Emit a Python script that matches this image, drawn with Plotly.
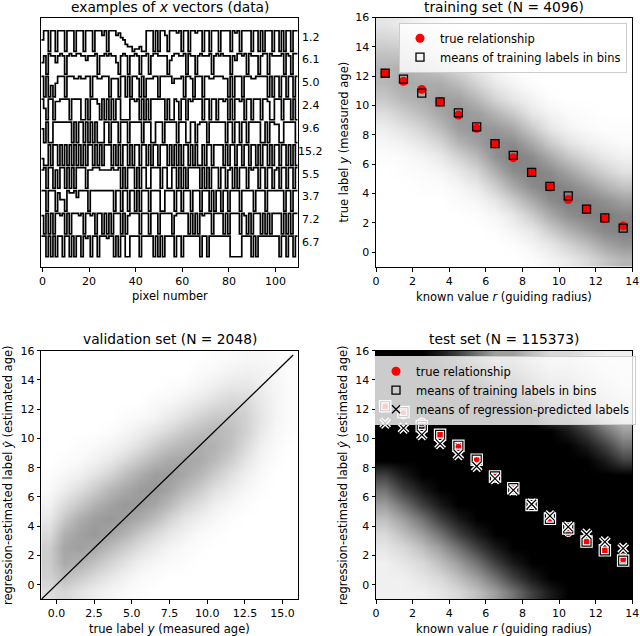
import plotly.graph_objects as go

# ---------------- data ----------------
vec_labels = ["1.2", "6.1", "5.0", "2.4", "9.6", "15.2", "5.5", "3.7", "7.2", "6.7"]
# each row: 110 pixel values, digit level 0..9
vec_rows = [
    "5990990999" "0999099909" "9909997909" "9978653220" "1120099909" "0997099989" "0990998990" "9909990999" "9098909999" "0990909990" "9909099099",
    "5809885898" "0898899886" "8889088989" "8850898088" "9808890899" "8888068998" "8909880898" "8890898988" "8086998909" "8880899098" "8889098099",
    "9090506999" "0999889889" "9099889990" "8880990909" "9809088899" "0999996888" "9099809990" "9988999988" "0909990999" "8899999090" "9909909909",
    "9509908899" "9909999009" "0999709090" "9099000099" "8909090999" "9990900980" "9909899990" "9909909989" "0909989099" "0999099800" "9990999090",
    "6090099999" "9990909909" "0909000990" "9990999099" "9990999009" "9909999909" "9900990899" "9099999990" "9909909909" "9999009099" "8800999990",
    "3009099090" "9090909090" "9909090999" "0909099090" "9909909099" "0999090909" "0990909009" "0990999909" "0990990990" "9909099090" "9909909090",
    "8909908099" "0909099990" "8899988888" "9889090999" "0909900999" "9099009909" "0909999909" "0909990990" "8909099909" "8990990990" "8909909909",
    "9909990855" "0988969999" "0999999999" "9099099099" "0909990999" "9009999099" "0999099909" "9909099099" "0999909999" "9099990999" "9999099099",
    "8090909989" "0909998909" "9890990909" "0999090899" "9909990999" "0999990899" "9990909098" "9990999909" "0999909809" "0999090909" "9990909099",
    "9909090990" "9909099098" "9099099989" "9090990099" "9909999909" "0909999099" "0999999909" "9099999999" "9000009999" "0909999999" "9909909909",
]

bin_centers = [0.5, 1.5, 2.5, 3.5, 4.5, 5.5, 6.5, 7.5, 8.5, 9.5, 10.5, 11.5, 12.5, 13.5]
true_rel = [12.2, 11.65, 11.1, 10.25, 9.35, 8.45, 7.4, 6.45, 5.45, 4.45, 3.6, 2.95, 2.3, 1.8]
train_means = [12.2, 11.8, 10.85, 10.25, 9.5, 8.55, 7.4, 6.6, 5.45, 4.5, 3.85, 2.95, 2.35, 1.65]
pred_means = [11.05, 10.7, 10.26, 9.65, 8.9, 8.1, 7.25, 6.47, 5.5, 4.7, 3.95, 3.45, 2.93, 2.48]

# point-cloud densities (relative darkness per 1x1 cell)
grid_y = [-0.5, 0.5, 1.5, 2.5, 3.5, 4.5, 5.5, 6.5, 7.5, 8.5, 9.5, 10.5, 11.5, 12.5, 13.5, 14.5, 15.5]
train_density = [
    [0, 0, 0, 0, 0, 0, 0, 0, 0.01, 0.05, 0.1, 0.17, 0.27, 0.35],
    [0, 0, 0, 0, 0, 0, 0, 0.01, 0.05, 0.11, 0.21, 0.31, 0.43, 0.5],
    [0, 0, 0, 0, 0, 0, 0.01, 0.05, 0.11, 0.24, 0.36, 0.47, 0.56, 0.59],
    [0, 0, 0, 0, 0, 0.01, 0.04, 0.11, 0.24, 0.4, 0.52, 0.58, 0.6, 0.57],
    [0, 0, 0, 0, 0.02, 0.04, 0.11, 0.24, 0.4, 0.54, 0.6, 0.58, 0.52, 0.44],
    [0, 0, 0.01, 0.01, 0.04, 0.1, 0.23, 0.4, 0.54, 0.6, 0.56, 0.47, 0.36, 0.28],
    [0, 0.01, 0.02, 0.04, 0.1, 0.2, 0.38, 0.54, 0.6, 0.54, 0.43, 0.31, 0.21, 0.14],
    [0.01, 0.02, 0.05, 0.1, 0.21, 0.33, 0.51, 0.6, 0.54, 0.4, 0.27, 0.17, 0.1, 0.06],
    [0.04, 0.06, 0.12, 0.2, 0.35, 0.45, 0.55, 0.54, 0.4, 0.24, 0.13, 0.07, 0.04, 0.02],
    [0.08, 0.14, 0.21, 0.32, 0.46, 0.5, 0.48, 0.4, 0.24, 0.11, 0.05, 0.02, 0.01, 0.01],
    [0.16, 0.24, 0.32, 0.42, 0.5, 0.45, 0.35, 0.24, 0.11, 0.05, 0.02, 0.01, 0, 0],
    [0.26, 0.34, 0.39, 0.45, 0.44, 0.33, 0.2, 0.11, 0.05, 0.01, 0, 0, 0, 0],
    [0.33, 0.4, 0.39, 0.39, 0.32, 0.2, 0.1, 0.05, 0.01, 0, 0, 0, 0, 0],
    [0.35, 0.38, 0.32, 0.27, 0.19, 0.1, 0.04, 0.01, 0, 0, 0, 0, 0, 0],
    [0.29, 0.28, 0.21, 0.16, 0.09, 0.04, 0.01, 0, 0, 0, 0, 0, 0, 0],
    [0.2, 0.18, 0.12, 0.07, 0.04, 0.01, 0, 0, 0, 0, 0, 0, 0, 0],
    [0.12, 0.09, 0.05, 0.03, 0.01, 0, 0, 0, 0, 0, 0, 0, 0, 0],
]
test_density = [
    [.06, .06, .06, .1, .15, .25, .38, .55, .75, .9, 1, 1, 1, 1],
    [.06, .06, .1, .15, .25, .38, .55, .75, .9, 1, 1, 1, 1, 1],
    [.06, .1, .15, .25, .38, .55, .75, .9, 1, 1, 1, 1, 1, 1],
    [.1, .15, .25, .38, .55, .75, .9, 1, 1, 1, 1, 1, 1, 1],
    [.15, .25, .38, .55, .75, .9, 1, 1, 1, 1, 1, 1, 1, 1],
    [.25, .38, .55, .75, .9, 1, 1, 1, 1, 1, 1, 1, 1, 1],
    [.38, .55, .75, .9, 1, 1, 1, 1, 1, 1, 1, 1, 1, 1],
    [.55, .75, .9, 1, 1, 1, 1, 1, 1, 1, 1, 1, 1, 1],
    [.75, .9, 1, 1, 1, 1, 1, 1, 1, 1, 1, 1, 1, 1],
    [1, 1, 1, 1, 1, 1, 1, 1, 1, 1, 1, 1, .9, .75],
    [1, 1, 1, 1, 1, 1, 1, 1, 1, 1, 1, .9, .75, .55],
    [1, 1, 1, 1, 1, 1, 1, 1, 1, 1, .9, .75, .55, .38],
    [1, 1, 1, 1, 1, 1, 1, 1, 1, .75, .75, .55, .38, .25],
    [1, 1, 1, 1, 1, 1, 1, .9, .75, .55, .55, .38, .25, .15],
    [1, 1, 1, 1, 1, 1, .75, .75, .55, .38, .38, .25, .15, .1],
    [1, 1, 1, 1, .9, .75, .55, .55, .38, .25, .25, .15, .1, .06],
    [1, 1, 1, .9, .75, .55, .38, .38, .25, .15, .15, .1, .06, .06],
]
val_x = [-0.5, 0.5, 1.5, 2.5, 3.5, 4.5, 5.5, 6.5, 7.5, 8.5, 9.5, 10.5, 11.5, 12.5, 13.5, 14.5, 15.5]
val_density = [
    [0.13, 0.16, 0.11, 0.07, 0.04, 0.02, 0.01, 0, 0, 0, 0, 0, 0, 0, 0, 0, 0],
    [0.18, 0.25, 0.2, 0.14, 0.09, 0.05, 0.02, 0.01, 0, 0, 0, 0, 0, 0, 0, 0, 0],
    [0.2, 0.33, 0.3, 0.24, 0.17, 0.11, 0.06, 0.03, 0.02, 0.01, 0, 0, 0, 0, 0, 0, 0],
    [0.19, 0.35, 0.37, 0.34, 0.27, 0.2, 0.13, 0.08, 0.04, 0.02, 0.01, 0, 0, 0, 0, 0, 0],
    [0.14, 0.31, 0.37, 0.4, 0.36, 0.3, 0.22, 0.15, 0.09, 0.05, 0.02, 0.01, 0, 0, 0, 0, 0],
    [0.09, 0.22, 0.32, 0.38, 0.4, 0.38, 0.33, 0.26, 0.17, 0.1, 0.06, 0.03, 0.01, 0, 0, 0, 0],
    [0.05, 0.14, 0.22, 0.3, 0.36, 0.4, 0.39, 0.35, 0.27, 0.18, 0.12, 0.06, 0.03, 0.01, 0, 0, 0],
    [0.02, 0.07, 0.13, 0.2, 0.28, 0.34, 0.39, 0.4, 0.35, 0.27, 0.2, 0.12, 0.07, 0.03, 0.01, 0, 0],
    [0.01, 0.03, 0.06, 0.11, 0.17, 0.25, 0.32, 0.38, 0.38, 0.34, 0.28, 0.2, 0.12, 0.06, 0.02, 0, 0],
    [0, 0.01, 0.02, 0.05, 0.09, 0.15, 0.22, 0.29, 0.34, 0.35, 0.33, 0.27, 0.19, 0.1, 0.04, 0.01, 0],
    [0, 0, 0.01, 0.02, 0.04, 0.07, 0.12, 0.19, 0.25, 0.29, 0.32, 0.3, 0.24, 0.15, 0.06, 0.02, 0],
    [0, 0, 0, 0, 0.01, 0.03, 0.06, 0.1, 0.15, 0.21, 0.25, 0.28, 0.25, 0.18, 0.09, 0.03, 0.01],
    [0, 0, 0, 0, 0, 0.01, 0.02, 0.04, 0.08, 0.12, 0.17, 0.21, 0.22, 0.18, 0.1, 0.04, 0.01],
    [0, 0, 0, 0, 0, 0, 0, 0.02, 0.03, 0.06, 0.09, 0.13, 0.16, 0.15, 0.09, 0.04, 0.01],
    [0, 0, 0, 0, 0, 0, 0, 0, 0.01, 0.02, 0.04, 0.07, 0.1, 0.1, 0.07, 0.04, 0.01],
    [0, 0, 0, 0, 0, 0, 0, 0, 0, 0, 0.02, 0.03, 0.05, 0.06, 0.05, 0.03, 0.01],
    [0, 0, 0, 0, 0, 0, 0, 0, 0, 0, 0, 0.01, 0.02, 0.03, 0.03, 0.02, 0.01],
]
diag_line = [-1.0, 15.7]

# ---------------- figure ----------------
W, H = 640, 636
FONT = "DejaVu Sans"
fig = go.Figure()

# top-left: step vectors
n_rows = len(vec_rows)
for i, row in enumerate(vec_rows):
    offset = n_rows - 1 - i
    vals = [offset + int(c) / 10 for c in row]
    xs = [k - 0.5 for k in range(len(vals) + 1)]
    ys = vals + [vals[-1]]
    fig.add_trace(go.Scatter(x=xs, y=ys, mode="lines", line=dict(color="black", width=1.7, shape="hv"),
                             showlegend=False, hoverinfo="skip", xaxis="x", yaxis="y"))

gray_scale = [[0, "rgb(255,255,255)"], [1, "rgb(0,0,0)"]]

# top-right: training set
fig.add_trace(go.Heatmap(x=bin_centers, y=grid_y, z=train_density, zmin=0, zmax=1.2, zsmooth="best",
                         colorscale=gray_scale, showscale=False, hoverinfo="skip", xaxis="x2", yaxis="y2"))
fig.add_trace(go.Scatter(x=bin_centers, y=true_rel, mode="markers", showlegend=False,
                         marker=dict(symbol="circle", size=9, color="red"), xaxis="x2", yaxis="y2"))
fig.add_trace(go.Scatter(x=bin_centers, y=train_means, mode="markers", showlegend=False,
                         marker=dict(symbol="square-open", size=8, color="black", line=dict(width=1.3, color="black")),
                         xaxis="x2", yaxis="y2"))
fig.add_trace(go.Scatter(x=[None], y=[None], mode="markers", name="true relationship", legend="legend",
                         marker=dict(symbol="circle", size=9, color="red"), xaxis="x2", yaxis="y2"))
fig.add_trace(go.Scatter(x=[None], y=[None], mode="markers", name="means of training labels in bins", legend="legend",
                         marker=dict(symbol="square-open", size=8, color="black", line=dict(width=1.3, color="black")),
                         xaxis="x2", yaxis="y2"))

# bottom-left: validation set
fig.add_trace(go.Heatmap(x=val_x, y=grid_y, z=val_density, zmin=0, zmax=1.0, zsmooth="best",
                         colorscale=gray_scale, showscale=False, hoverinfo="skip", xaxis="x3", yaxis="y3"))
fig.add_trace(go.Scatter(x=diag_line, y=diag_line, mode="lines", line=dict(color="black", width=1.3),
                         showlegend=False, hoverinfo="skip", xaxis="x3", yaxis="y3"))

# bottom-right: test set
fig.add_trace(go.Heatmap(x=bin_centers, y=grid_y, z=test_density, zmin=0, zmax=1, zsmooth="best",
                         colorscale=gray_scale, showscale=False, hoverinfo="skip", xaxis="x4", yaxis="y4"))
fig.add_trace(go.Scatter(x=bin_centers, y=true_rel, mode="markers", showlegend=False,
                         marker=dict(symbol="circle", size=9, color="red", line=dict(color="white", width=1)),
                         xaxis="x4", yaxis="y4"))
fig.add_trace(go.Scatter(x=bin_centers, y=train_means, mode="markers", showlegend=False,
                         marker=dict(symbol="square-open", size=9, color="white", line=dict(width=3.5, color="white")),
                         xaxis="x4", yaxis="y4"))
fig.add_trace(go.Scatter(x=bin_centers, y=train_means, mode="markers", showlegend=False,
                         marker=dict(symbol="square-open", size=9, color="black", line=dict(width=1.2, color="black")),
                         xaxis="x4", yaxis="y4"))
fig.add_trace(go.Scatter(x=bin_centers, y=pred_means, mode="markers", showlegend=False,
                         marker=dict(symbol="x-thin-open", size=9, color="white", line=dict(width=4, color="white")),
                         xaxis="x4", yaxis="y4"))
fig.add_trace(go.Scatter(x=bin_centers, y=pred_means, mode="markers", showlegend=False,
                         marker=dict(symbol="x-thin-open", size=9, color="black", line=dict(width=1.2, color="black")),
                         xaxis="x4", yaxis="y4"))
fig.add_trace(go.Scatter(x=[None], y=[None], mode="markers", name="true relationship", legend="legend2",
                         marker=dict(symbol="circle", size=9, color="red"), xaxis="x4", yaxis="y4"))
fig.add_trace(go.Scatter(x=[None], y=[None], mode="markers", name="means of training labels in bins", legend="legend2",
                         marker=dict(symbol="square-open", size=8, color="black", line=dict(width=1.3, color="black")),
                         xaxis="x4", yaxis="y4"))
fig.add_trace(go.Scatter(x=[None], y=[None], mode="markers", name="means of regression-predicted labels", legend="legend2",
                         marker=dict(symbol="x-thin-open", size=8, color="black", line=dict(width=1.3, color="black")),
                         xaxis="x4", yaxis="y4"))

def px_x(p):
    return p / W

def px_y(p):
    return 1 - p / H

TICKFONT = dict(family=FONT, size=11, color="black")
base_axis = dict(showline=True, linecolor="black", linewidth=1, mirror=True, ticks="outside", ticklen=3.5,
                 tickwidth=0.8, tickcolor="black", showgrid=False, zeroline=False, tickfont=TICKFONT,
                 automargin=False)

dom_left = [px_x(41.3), px_x(297.7)]
dom_right = [px_x(376), px_x(632.3)]
dom_top = [px_y(267), px_y(17.5)]
dom_bot = [px_y(599.3), px_y(350.7)]

LEGFONT = dict(family=FONT, size=11.5, color="black")
fig.update_layout(
    template="none",
    width=W, height=H, margin=dict(l=0, r=0, t=0, b=0, pad=0, autoexpand=False),
    paper_bgcolor="white", plot_bgcolor="white",
    font=dict(family=FONT, color="black"),
    xaxis=dict(base_axis, domain=dom_left, range=[-0.5, 109.5], tickvals=[0, 20, 40, 60, 80, 100], anchor="y"),
    yaxis=dict(base_axis, domain=dom_top, range=[-0.45, 10.48], showticklabels=False, ticks="", anchor="x"),
    xaxis2=dict(base_axis, domain=dom_right, range=[0, 14], dtick=2, anchor="y2"),
    yaxis2=dict(base_axis, domain=dom_top, range=[-1, 16], dtick=2, anchor="x2"),
    xaxis3=dict(base_axis, domain=dom_left, range=[-1, 16], tickvals=[0, 2.5, 5, 7.5, 10, 12.5, 15],
                ticktext=["0.0", "2.5", "5.0", "7.5", "10.0", "12.5", "15.0"], anchor="y3"),
    yaxis3=dict(base_axis, domain=dom_bot, range=[-1, 16], dtick=2, anchor="x3"),
    xaxis4=dict(base_axis, domain=dom_right, range=[0, 14], dtick=2, anchor="y4"),
    yaxis4=dict(base_axis, domain=dom_bot, range=[-1, 16], dtick=2, anchor="x4"),
    legend=dict(x=px_x(627), y=px_y(22.7), xanchor="right", yanchor="top", bgcolor="rgba(255,255,255,0.8)",
                bordercolor="#cccccc", borderwidth=1, font=LEGFONT, tracegroupgap=0,
                itemsizing="trace"),
    legend2=dict(x=px_x(636), y=px_y(355.7), xanchor="right", yanchor="top", bgcolor="rgba(255,255,255,0.8)",
                 bordercolor="#cccccc", borderwidth=1, font=LEGFONT, tracegroupgap=0,
                 itemsizing="trace"),
)

ann = []
def text(x, y, s, size, angle=0, xanchor="center"):
    ann.append(dict(x=px_x(x), y=px_y(y), xref="paper", yref="paper", text=s, showarrow=False,
                    font=dict(family=FONT, size=size, color="black"), textangle=angle,
                    xanchor=xanchor, yanchor="middle"))

# titles
text(169.5, 7, "examples of <i>x</i> vectors (data)", 13.8)
text(504, 7, "training set (N = 4096)", 13.8)
text(169.5, 339.3, "validation set (N = 2048)", 13.8)
text(504, 339, "test set (N = 115373)", 13.8)
# axis titles
text(169.5, 296, "pixel number", 11.5)
text(504, 296.7, "known value <i>r</i> (guiding radius)", 11.5)
text(343, 142.5, "true label <i>y</i> (measured age)", 11.5, angle=-90)
text(169.5, 629, "true label <i>y</i> (measured age)", 11.5)
text(8, 475, "regression-estimated label <i>ŷ</i> (estimated age)", 11.5, angle=-90)
text(504, 629, "known value <i>r</i> (guiding radius)", 11.5)
text(343, 475, "regression-estimated label <i>ŷ</i> (estimated age)", 11.5, angle=-90)

# labels of the example vectors
for i, lab in enumerate(vec_labels):
    offset = n_rows - 1 - i
    ann.append(dict(x=px_x(310.5), y=offset + 0.62, xref="paper", yref="y", text=lab, showarrow=False,
                    font=dict(family=FONT, size=11, color="black"), xanchor="center", yanchor="middle"))

fig.update_layout(annotations=ann)
fig.write_html("out.html", config={"displayModeBar": False},
               post_script="document.body.style.margin='0';document.body.style.padding='0';"
                           "document.body.style.overflow='hidden';")
